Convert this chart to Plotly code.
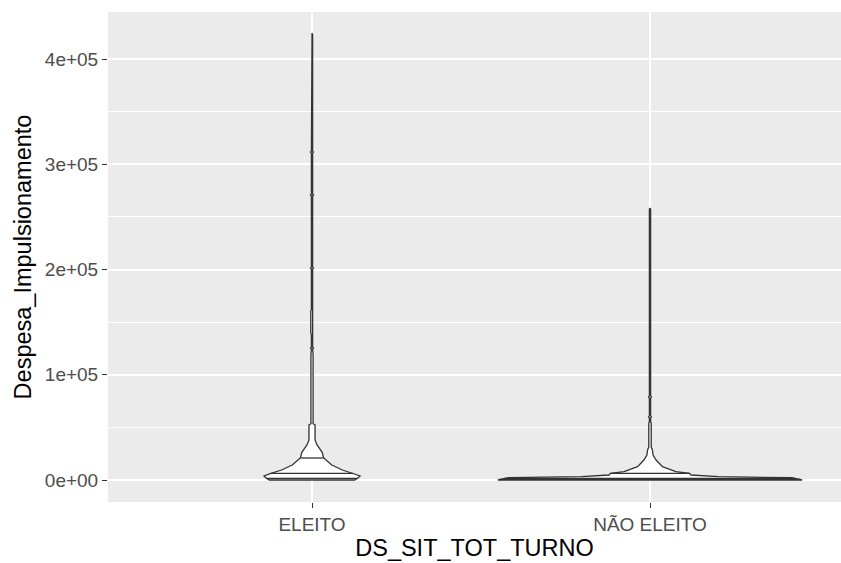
import numpy as np
import plotly.graph_objects as go

categories = ["ELEITO", "NÃO ELEITO"]

# Violin outline for ELEITO: value (y) and relative density (1 = widest violin)
eleito_values = [424700, 423000, 312500, 311600, 310700, 271700, 270800, 269900,
                 202300, 201400, 200500, 162000, 160500, 139500, 138000, 126300,
                 125400, 124500, 119000, 53500, 52300, 38000, 33250, 26600, 20900,
                 14250, 9500, 6370, 3800, 1600, 0]
eleito_density = [0, 0.004, 0.004, 0.01, 0.004, 0.004, 0.01, 0.004,
                  0.004, 0.01, 0.004, 0.004, 0.008, 0.008, 0.004, 0.004,
                  0.01, 0.004, 0.007, 0.007, 0.02, 0.02, 0.033, 0.066, 0.077,
                  0.13, 0.2, 0.27, 0.316, 0.3, 0.28]
eleito_quantiles = [1600, 6300, 20900]

# Violin outline for NÃO ELEITO
nao_values = [258400, 257000, 80000, 78900, 77800, 61000, 59900, 58800, 55000,
              54200, 31350, 28500, 23750, 19000, 12640, 7900, 6370, 4750, 3140,
              2200, 0]
nao_density = [0, 0.004, 0.004, 0.01, 0.004, 0.004, 0.01, 0.004, 0.004,
               0.008, 0.008, 0.016, 0.02, 0.04, 0.082, 0.17, 0.26, 0.27, 0.45,
               0.93, 1.0]
nao_quantiles = [500, 1500, 6370]

y_ticks = [0, 100000, 200000, 300000, 400000]
y_ticktext = ["0e+00", "1e+05", "2e+05", "3e+05", "4e+05"]
y_minor = [50000, 150000, 250000, 350000]

HALF = 0.45
LINE = "#333333"

fig = go.Figure()

groups = [
    (0, eleito_values, eleito_density, eleito_quantiles),
    (1, nao_values, nao_density, nao_quantiles),
]
for pos, vals, dens, quants in groups:
    vals = np.array(vals, dtype=float)
    dens = np.array(dens, dtype=float)
    xs = np.concatenate([pos + HALF * dens, (pos - HALF * dens)[::-1], [pos + HALF * dens[0]]])
    ys = np.concatenate([vals, vals[::-1], [vals[0]]])
    fig.add_trace(go.Scatter(x=xs, y=ys, mode="lines", fill="toself",
                             fillcolor="white", line=dict(color=LINE, width=1.3),
                             hoverinfo="skip", showlegend=False))
    for q in quants:
        w = HALF * np.interp(q, vals[::-1], dens[::-1])
        fig.add_trace(go.Scatter(x=[pos - w, pos + w], y=[q, q], mode="lines",
                                 line=dict(color=LINE, width=1.3),
                                 hoverinfo="skip", showlegend=False))

font_family = "Liberation Sans, Arial, sans-serif"
axis_common = dict(
    showgrid=True, gridcolor="white", gridwidth=1.5, zeroline=False,
    ticks="outside", ticklen=5, tickwidth=1, tickcolor=LINE,
    tickfont=dict(size=19, color="#4D4D4D", family=font_family),
    showline=False, automargin=False,
)

fig.update_layout(
    width=841, height=563,
    margin=dict(l=108, r=0, t=12, b=61, pad=0),
    plot_bgcolor="#EBEBEB", paper_bgcolor="white",
    showlegend=False,
    font=dict(family=font_family),
    xaxis=dict(range=[-0.6036, 1.5651], tickmode="array", tickvals=[0, 1],
               ticktext=categories,
               title=dict(text="DS_SIT_TOT_TURNO",
                          font=dict(size=23.5, color="black", family=font_family),
                          standoff=4),
               **axis_common),
    yaxis=dict(range=[-20903, 444656], tickmode="array", tickvals=y_ticks,
               ticktext=y_ticktext,
               minor=dict(tickmode="array", tickvals=y_minor, showgrid=True,
                          gridcolor="white", gridwidth=0.8, ticklen=0),
               title=dict(text="Despesa_Impulsionamento",
                          font=dict(size=23.5, color="black", family=font_family),
                          standoff=6),
               **axis_common),
)

fig.write_html("out.html",
               config={"displayModeBar": False},
               post_script="document.body.style.margin='0px';"
                           "document.body.style.overflow='hidden';")
